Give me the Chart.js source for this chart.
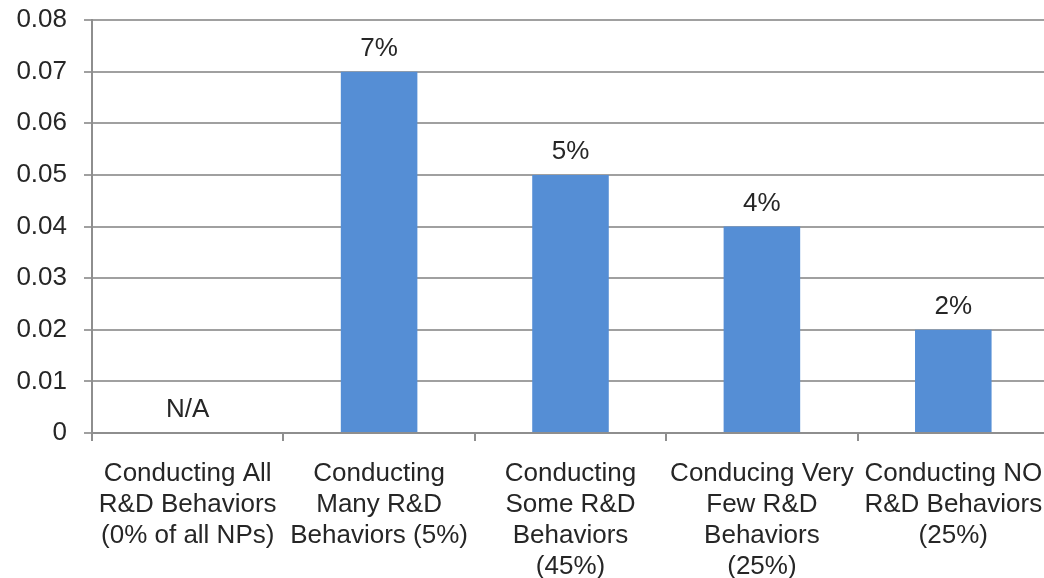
<!DOCTYPE html>
<html>
<head>
<meta charset="utf-8">
<script src="https://cdn.jsdelivr.net/npm/chart.js@4"></script>
<style>
  html, body { margin: 0; padding: 0; background: #fff; overflow: hidden; }
  /* the plot runs a little past the right edge, like the original */
  #wrap { width: 1049px; height: 578px; }
</style>
</head>
<body>
<div id="wrap"><canvas id="chart"></canvas></div>
<script>
// categories (multi-line labels)
const categories = [
    ["Conducting All", "R&D Behaviors", "(0% of all NPs)"],
    ["Conducting", "Many R&D", "Behaviors (5%)"],
    ["Conducting", "Some R&D", "Behaviors", "(45%)"],
    ["Conducing Very", "Few R&D", "Behaviors", "(25%)"],
    ["Conducting NO", "R&D Behaviors", "(25%)"]
];
const values = [null, 0.07, 0.05, 0.04, 0.02];
const valueLabels = ["N/A", "7%", "5%", "4%", "2%"];

const gridGray = '#a0a0a0';
const axisGray = '#8e8e8e';
const textColor = '#262626';
const fontFamily = '"Liberation Sans", Arial, sans-serif';

// draw the labels above each bar
const barLabels = {
    id: 'barLabels',
    afterDatasetsDraw(chart) {
        const ctx = chart.ctx;
        const xScale = chart.scales.x;
        const yScale = chart.scales.y;
        ctx.save();
        ctx.font = '26px ' + fontFamily;
        ctx.fillStyle = textColor;
        ctx.textAlign = 'center';
        ctx.textBaseline = 'bottom';
        values.forEach((v, i) => {
            const x = xScale.getPixelForValue(i);
            const y = yScale.getPixelForValue(v || 0) - 10;
            ctx.fillText(valueLabels[i], x, y);
        });
        ctx.restore();
    }
};

const ctx = document.getElementById('chart').getContext('2d');
const chart = new Chart(ctx, {
    type: 'bar',
    data: {
        labels: categories,
        datasets: [{
            data: values,
            backgroundColor: '#558ed5',
            borderWidth: 0,
            barPercentage: 0.8,
            categoryPercentage: 0.5
        }]
    },
    options: {
        responsive: true,
        maintainAspectRatio: false,
        animation: false,
        layout: { padding: { top: 20, right: 0, left: 0, bottom: 0 } },
        plugins: {
            legend: { display: false },
            tooltip: { enabled: false }
        },
        scales: {
            x: {
                afterFit: (scale) => {
                    scale.height = 145;
                    scale.paddingLeft = 0;
                    scale.paddingRight = 0;
                },
                grid: {
                    display: true,
                    drawOnChartArea: false,
                    drawTicks: true,
                    tickLength: 8,
                    color: axisGray,
                    lineWidth: 2,
                    offset: true
                },
                border: { color: axisGray, width: 2 },
                ticks: {
                    color: textColor,
                    font: { family: fontFamily, size: 26, lineHeight: 1.2 },
                    maxRotation: 0,
                    autoSkip: false,
                    padding: 17
                }
            },
            y: {
                min: 0,
                max: 0.08,
                afterFit: (scale) => {
                    scale.width = 92;
                    scale.paddingTop = 0;
                    scale.paddingBottom = 0;
                },
                grid: {
                    color: gridGray,
                    lineWidth: 2,
                    tickLength: 8
                },
                border: { color: axisGray, width: 2 },
                ticks: {
                    stepSize: 0.01,
                    color: textColor,
                    font: { family: fontFamily, size: 26 },
                    padding: 17,
                    callback: (v) => v === 0 ? '0' : v.toFixed(2)
                }
            }
        }
    },
    plugins: [barLabels]
});
</script>
</body>
</html>
